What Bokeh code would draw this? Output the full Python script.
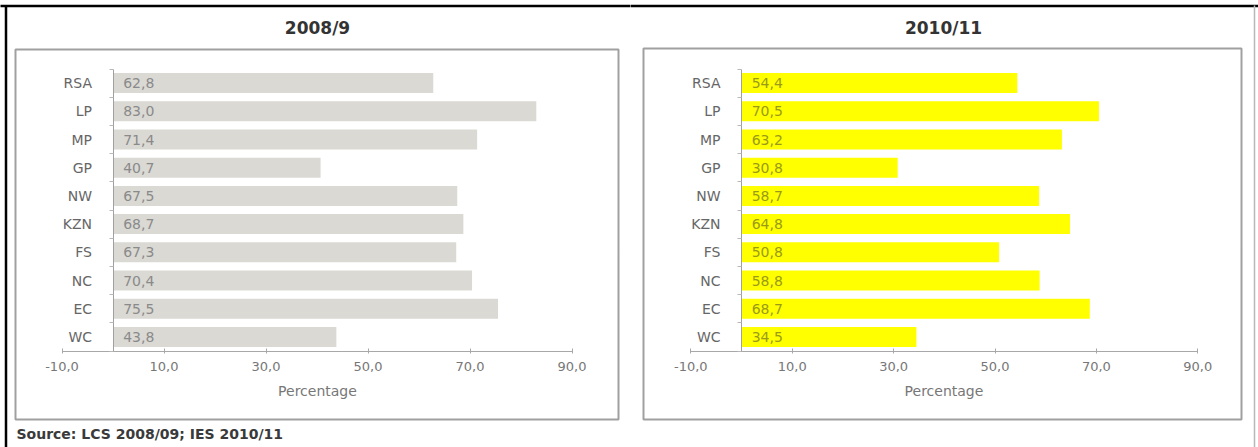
from bokeh.plotting import figure
from bokeh.layouts import row
from bokeh.models import (Range1d, LinearAxis, FixedTicker, CustomJSTickFormatter,
                          ColumnDataSource, Label)
from bokeh.embed import file_html
from bokeh.resources import INLINE
from bokeh.core.properties import value

# ---------------- data ----------------
regions = ["RSA", "LP", "MP", "GP", "NW", "KZN", "FS", "NC", "EC", "WC"]
pct_2008 = [62.8, 83.0, 71.4, 40.7, 67.5, 68.7, 67.3, 70.4, 75.5, 43.8]
pct_2010 = [54.4, 70.5, 63.2, 30.8, 58.7, 64.8, 50.8, 58.8, 68.7, 34.5]
x_ticks = [-10, 10, 30, 50, 70, 90]
panel_titles = ["2008/9", "2010/11"]
axis_title = "Percentage"
source_note = "Source: LCS 2008/09; IES 2010/11"

# ---------------- layout constants (canvas pixels) ----------------
H = 447
Y0_PX = 350.5      # canvas y of the category axis bottom (value 0)
SY = 28.2          # pixels per category row
FONT = "DejaVu Sans"


def make_panel(width, zero_px, sx, vals, title, title_cx, box, fill, lab_color,
               frame_left=False, frame_right=False, note=None):
    n = len(regions)
    x_start = -zero_px / sx
    x_end = (width - zero_px) / sx
    y_start = -(H - Y0_PX) / SY
    y_end = Y0_PX / SY

    def X(px):
        return (px - zero_px) / sx

    def Y(py):
        return (Y0_PX - py) / SY

    p = figure(width=width, height=H, x_range=Range1d(x_start, x_end),
               y_range=Range1d(y_start, y_end), output_backend="svg",
               toolbar_location=None, x_axis_location=None, y_axis_location=None,
               min_border=0, outline_line_color=None,
               background_fill_color="white", border_fill_color="white")
    p.xgrid.visible = False
    p.ygrid.visible = False

    # outer frame of the whole figure
    p.segment(x0=[X(-5)], y0=[Y(5.5)], x1=[X(width + 5)], y1=[Y(5.5)],
              line_color="black", line_width=2.5)
    if frame_left:
        p.segment(x0=[X(5.5)], y0=[Y(5)], x1=[X(5.5)], y1=[Y(H + 5)],
                  line_color="black", line_width=2.5)
    if frame_right:
        p.segment(x0=[X(width - 4)], y0=[Y(5)], x1=[X(width - 4)], y1=[Y(H + 5)],
                  line_color="#b8b8b8", line_width=1.5)

    # panel box
    bx0, by0, bx1, by1 = box
    p.quad(left=[X(bx0)], right=[X(bx1)], top=[Y(by0)], bottom=[Y(by1)],
           fill_color=None, line_color="#a0a0a0", line_width=2)

    # bars
    ypos = [n - 1 - i + 0.5 for i in range(n)]
    labels = [f"{v:.1f}".replace(".", ",") for v in vals]
    src = ColumnDataSource(dict(y=ypos, v=vals, lab=labels))
    p.hbar(y="y", left=0, right="v", height=0.71, fill_color=fill,
           line_color=None, source=src)
    p.text(x=2.0, y="y", text="lab", source=src, text_align="left",
           text_baseline="middle", text_font=value(FONT),
           text_font_size="14px", text_color=lab_color)

    # value axis
    xa = LinearAxis(fixed_location=0, bounds=(x_ticks[0], x_ticks[-1]),
                    ticker=FixedTicker(ticks=x_ticks, minor_ticks=[]),
                    formatter=CustomJSTickFormatter(
                        code="return tick.toFixed(1).replace('.', ',');"),
                    axis_label=axis_title)
    xa.axis_line_color = "#a8a8a8"
    xa.major_tick_line_color = "#a8a8a8"
    xa.major_tick_in = 3
    xa.major_tick_out = 2
    xa.minor_tick_line_color = None
    xa.major_label_standoff = 9
    xa.major_label_text_font = FONT
    xa.major_label_text_font_size = "13px"
    xa.major_label_text_color = "#777777"
    xa.axis_label_standoff = 8
    xa.axis_label_text_font = FONT
    xa.axis_label_text_font_size = "14px"
    xa.axis_label_text_font_style = "normal"
    xa.axis_label_text_color = "#777777"
    p.add_layout(xa, "below")

    # category axis
    ya = LinearAxis(fixed_location=0, bounds=(0, n),
                    ticker=FixedTicker(ticks=ypos, minor_ticks=list(range(n + 1))),
                    formatter=CustomJSTickFormatter(
                        args=dict(names=regions[::-1]),
                        code="const i = Math.floor(tick); "
                             "return (i >= 0 && i < names.length) ? names[i] : '';"))
    ya.axis_line_color = "#a0a0a0"
    ya.major_tick_in = 0
    ya.major_tick_out = 0
    ya.major_tick_line_color = None
    ya.minor_tick_in = 0
    ya.minor_tick_out = 4
    ya.minor_tick_line_color = "#b8b8b8"
    ya.major_label_standoff = 17
    ya.major_label_text_font = FONT
    ya.major_label_text_font_size = "14px"
    ya.major_label_text_color = "#666666"
    p.add_layout(ya, "left")

    # title of the panel
    p.add_layout(Label(x=X(title_cx), y=Y(27), text=title, text_align="center",
                       text_baseline="middle", text_font=FONT,
                       text_font_style="bold", text_font_size="17px",
                       text_color="#333333"))
    if note is not None:
        p.add_layout(Label(x=X(16), y=Y(433), text=note, text_align="left",
                           text_baseline="middle", text_font=FONT,
                           text_font_style="bold", text_font_size="14px",
                           text_color="#3a3a3a"))
    return p


p_left = make_panel(630, 112.5, 5.1, pct_2008, panel_titles[0], 317,
                    (15, 49, 618, 419), "#dad9d4", "#8a8a8a",
                    frame_left=True, note=source_note)
p_right = make_panel(628, 111, 5.07, pct_2010, panel_titles[1], 313,
                     (13, 48, 611, 419), "#ffff00", "#9a9a18",
                     frame_right=True)

layout = row(p_left, p_right)
open("out.html", "w").write(file_html(layout, INLINE))
